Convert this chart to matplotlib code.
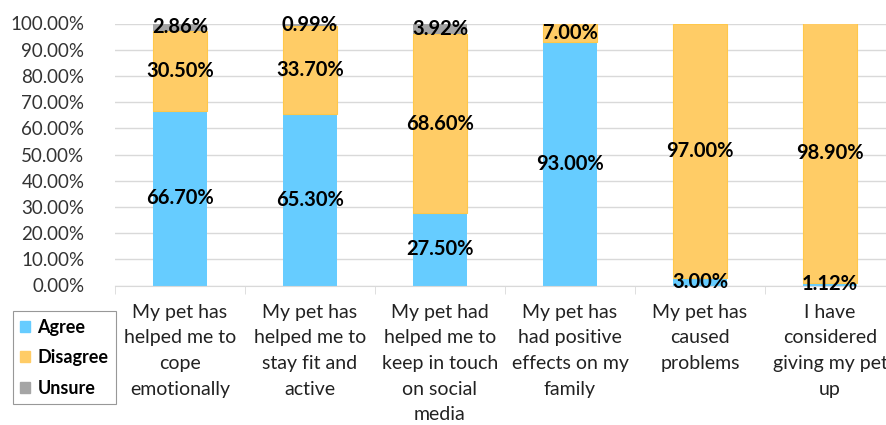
import numpy as np
import matplotlib.pyplot as plt
from matplotlib.ticker import FuncFormatter, FixedLocator
from matplotlib.patches import Patch

# Umfragewerte (Anteile in Prozent)
categories = [
    "My pet has\nhelped me to\ncope\nemotionally",
    "My pet has\nhelped me to\nstay fit and\nactive",
    "My pet had\nhelped me to\nkeep in touch\non social\nmedia",
    "My pet has\nhad positive\neffects on my\nfamily",
    "My pet has\ncaused\nproblems",
    "I have\nconsidered\ngiving my pet\nup",
]
agree = [66.70, 65.30, 27.50, 93.00, 3.00, 1.12]
disagree = [30.50, 33.70, 68.60, 7.00, 97.00, 98.90]
unsure = [2.86, 0.99, 3.92, 0.0, 0.0, 0.0]

c_agree = "#66CCFF"
c_disagree = "#FFCC66"
c_unsure = "#A5A5A5"

plt.rcParams['font.family'] = ['Lato', 'DejaVu Sans']

W, H = 887, 425
fig = plt.figure(figsize=(W / 100, H / 100), dpi=100)
ax = fig.add_axes([115 / W, 1 - 285.5 / H, (895 - 115) / W, (285.5 - 23.5) / H])

x = np.arange(len(categories))
a = np.array(agree) / 100
d = np.array(disagree) / 100
u = np.array(unsure) / 100
bw = 0.415

ax.bar(x, a, bw, color=c_agree, linewidth=0, zorder=2)
ax.bar(x, d, bw, bottom=a, color=c_disagree, edgecolor="#FFC84A", linewidth=0.8, zorder=2)
ax.bar(x, u, bw, bottom=a + d, color=c_unsure, linewidth=0, zorder=2)

# Beschriftungen in der Mitte der Segmente
lab = dict(ha='center', va='center', fontsize=14.5, fontweight='bold', color='black', zorder=5)
for i in range(len(x)):
    ax.text(x[i], a[i] / 2, f"{agree[i]:.2f}%", **lab)
    ax.text(x[i], a[i] + d[i] / 2, f"{disagree[i]:.2f}%", **lab)
    if unsure[i] > 0:
        ax.text(x[i], a[i] + d[i] + u[i] / 2, f"{unsure[i]:.2f}%", **lab)

ax.set_ylim(0, 1)
ax.set_xlim(-0.5, 5.5)
ax.set_yticks(np.arange(0, 1.01, 0.1))
ax.yaxis.set_major_formatter(FuncFormatter(lambda v, p: f"{v * 100:.2f}%"))
ax.tick_params(axis='y', length=0, labelsize=13.5, colors='#333333', pad=22)
ax.grid(axis='y', color='#D9D9D9', linewidth=1, zorder=0)
ax.set_axisbelow(True)

ax.set_xticks(x)
ax.set_xticklabels(categories, fontsize=14, linespacing=1.62, color='#222222')
ax.tick_params(axis='x', length=0, pad=13)
ax.xaxis.set_minor_locator(FixedLocator(np.arange(-0.5, 6, 1)))
ax.tick_params(axis='x', which='minor', length=6, color='#D9D9D9')

for s in ['top', 'right', 'left']:
    ax.spines[s].set_visible(False)
ax.spines['bottom'].set_color('#D9D9D9')

handles = [Patch(color=c_agree, label='Agree'),
           Patch(color=c_disagree, label='Disagree'),
           Patch(color=c_unsure, label='Unsure')]
leg = fig.legend(handles=handles, loc='lower left', bbox_to_anchor=(13 / W, 1 - 404 / H),
                 prop={'weight': 'bold', 'size': 13}, frameon=True, fancybox=False,
                 handlelength=0.55, handleheight=0.55, handletextpad=0.4,
                 labelspacing=0.75, borderpad=0.4, borderaxespad=0)
leg.get_frame().set_edgecolor('#7F7F7F')
leg.get_frame().set_linewidth(0.8)

fig.savefig("out.png", dpi=100)
